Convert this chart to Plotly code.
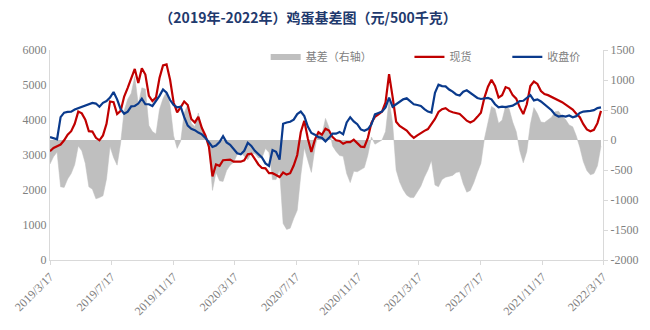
import pandas as pd
import plotly.graph_objects as go

# Weekly samples, 2019-03-17 through 2022-03-13
dates = pd.date_range("2019-03-17", periods=157, freq="7D")

# 现货 (spot price, 元/500千克)
spot = [
    3110, 3200, 3250, 3300, 3420, 3580, 3680, 3890, 4240, 4190,
    4010, 3680, 3670, 3490, 3420, 3560, 3890, 4530, 4510, 4170,
    4260, 4670, 4920, 5170, 5460, 5060, 5480, 5300, 4690, 4540,
    4640, 5200, 5560, 5590, 5150, 4500, 4220, 4360, 4530, 4430,
    4030, 3930, 4090, 3770, 3560, 3230, 2390, 2730, 2690, 2850,
    2850, 2870, 2810, 2810, 2810, 2850, 3020, 3040, 2890, 2730,
    2630, 2620, 2480, 2480, 2430, 2370, 2500, 2440, 2480, 2700,
    3000, 3650, 3980, 3470, 3090, 3440, 3650, 3580, 3750, 3700,
    3510, 3420, 3400, 3320, 3370, 3370, 3440, 3350, 3240, 3230,
    3490, 3920, 4090, 4160, 4240, 4500, 5310, 4660, 3950, 3830,
    3760, 3700, 3580, 3490, 3560, 3630, 3690, 3740, 3870, 4030,
    4230, 4310, 4340, 4260, 4220, 4190, 4170, 4080, 3980, 3930,
    3980, 4090, 4210, 4640, 4950, 5150, 4970, 4640, 4710, 4940,
    4900, 4710, 4610, 4360, 4170, 4450, 4970, 5100, 5030, 4830,
    4740, 4710, 4660, 4620, 4580, 4510, 4440, 4380, 4300, 4180,
    4080, 3880, 3730, 3680, 3720, 3910, 4260,
]

# 收盘价 (futures close, 元/500千克)
close = [
    3510, 3480, 3450, 4080, 4210, 4230, 4240, 4300, 4340, 4370,
    4400, 4460, 4490, 4470, 4380, 4490, 4540, 4640, 4800, 4590,
    4310, 4180, 4240, 4390, 4400, 4470, 4610, 4450, 4450, 4400,
    4540, 4690, 4870, 4780, 4570, 4430, 4360, 4380, 4080, 3840,
    3750, 3710, 3640, 3590, 3490, 3360, 3230, 3270, 3370, 3540,
    3360, 3290, 3180, 3050, 3020, 3120, 3350, 3260, 3120, 3030,
    2930, 2760, 2690, 3140, 3090, 2870, 3890, 3930, 3950, 4010,
    4170, 4240, 4110, 3810, 3630, 3580, 3510, 3490, 3390, 3490,
    3610, 3610, 3660, 3590, 3930, 4080, 3960, 3880, 3730, 3690,
    3740, 3870, 4160, 4200, 4240, 4360, 4640, 4380, 4450, 4530,
    4590, 4620, 4540, 4450, 4430, 4400, 4310, 4240, 4210, 4780,
    5010, 4970, 4960, 4870, 4810, 4730, 4700, 4810, 4850, 4770,
    4690, 4630, 4600, 4620, 4630, 4590, 4450, 4360, 4380, 4370,
    4380, 4410, 4470, 4540, 4550, 4640, 4710, 4560, 4590, 4530,
    4450, 4380, 4280, 4150, 4100, 4120, 4100, 4130, 4080, 4110,
    4200, 4240, 4240, 4260, 4280, 4340, 4360,
]

# 基差 = 现货 - 收盘价
basis = [s - c for s, c in zip(spot, close)]

x_tick_dates = ["2019-03-17", "2019-07-17", "2019-11-17", "2020-03-17", "2020-07-17",
                "2020-11-17", "2021-03-17", "2021-07-17", "2021-11-17", "2022-03-17"]
x_tick_text = ["2019/3/17", "2019/7/17", "2019/11/17", "2020/3/17", "2020/7/17",
               "2020/11/17", "2021/3/17", "2021/7/17", "2021/11/17", "2022/3/17"]
left_ticks = [0, 1000, 2000, 3000, 4000, 5000, 6000]
right_ticks = [-2000, -1500, -1000, -500, 0, 500, 1000, 1500]
right_tick_text = ["-2000", "-1500", "-1000", "-500", "0", "500", "1000", "1500"]

GRAY = "#bfbfbf"
RED = "#c00000"
BLUE = "#0a3a8c"
AXIS = "#d9d9d9"
TICK_FONT = dict(family="Liberation Serif", size=12, color="#808080")
LEG_FONT = dict(family="Noto Sans CJK SC", size=11, color="#808080")

fig = go.Figure()

# basis area on the right-hand scale (base axis, drawn underneath)
fig.add_trace(go.Scatter(
    x=dates, y=basis, mode="lines", fill="tozeroy",
    line=dict(color=GRAY, width=0.5), fillcolor=GRAY,
    yaxis="y", showlegend=False, legendgroup="basis", hoverinfo="skip",
))
# legend entry for the basis area
fig.add_trace(go.Scatter(
    x=[None], y=[None], mode="lines", name="基差（右轴）",
    line=dict(color=GRAY, width=6), yaxis="y",
    legend="legend", legendgroup="basis",
))
fig.add_trace(go.Scatter(
    x=dates, y=spot, mode="lines", name="现货",
    line=dict(color=RED, width=2.2), yaxis="y2", legend="legend2",
))
fig.add_trace(go.Scatter(
    x=dates, y=close, mode="lines", name="收盘价",
    line=dict(color=BLUE, width=2.2), yaxis="y2", legend="legend3",
))

legend_common = dict(y=0.967, yanchor="middle", xanchor="left", orientation="h",
                     font=LEG_FONT, bgcolor="rgba(0,0,0,0)", borderwidth=0)

fig.update_layout(
    width=650, height=330,
    margin=dict(l=40, r=44, t=50, b=67),
    paper_bgcolor="white", plot_bgcolor="white",
    title=dict(
        text="（2019年-2022年）鸡蛋基差图（元/500千克）",
        x=0.474, xref="container", xanchor="center",
        y=0.945, yref="container", yanchor="middle",
        font=dict(family="Noto Sans CJK SC", size=14, color="#1f3a6e", weight="bold"),
    ),
    xaxis=dict(
        type="date", range=["2019-03-17", "2022-03-17"],
        tickvals=x_tick_dates, ticktext=x_tick_text, tickangle=-45,
        showline=True, linecolor=AXIS, linewidth=1,
        ticks="outside", ticklen=4, tickcolor=AXIS,
        showgrid=False, zeroline=False, tickfont=TICK_FONT,
    ),
    yaxis=dict(
        side="right", range=[-2000, 1500],
        tickvals=right_ticks, ticktext=right_tick_text,
        showline=True, linecolor=AXIS, linewidth=1,
        ticks="outside", ticklen=4, tickcolor=AXIS,
        showgrid=False, zeroline=False, tickfont=TICK_FONT,
    ),
    yaxis2=dict(
        side="left", overlaying="y", range=[0, 6000],
        tickvals=left_ticks,
        showline=True, linecolor=AXIS, linewidth=1, ticks="",
        showgrid=False, zeroline=False, tickfont=TICK_FONT,
    ),
    legend=dict(x=0.390, **legend_common),
    legend2=dict(x=0.650, **legend_common),
    legend3=dict(x=0.827, **legend_common),
)

fig.write_html("out.html")
